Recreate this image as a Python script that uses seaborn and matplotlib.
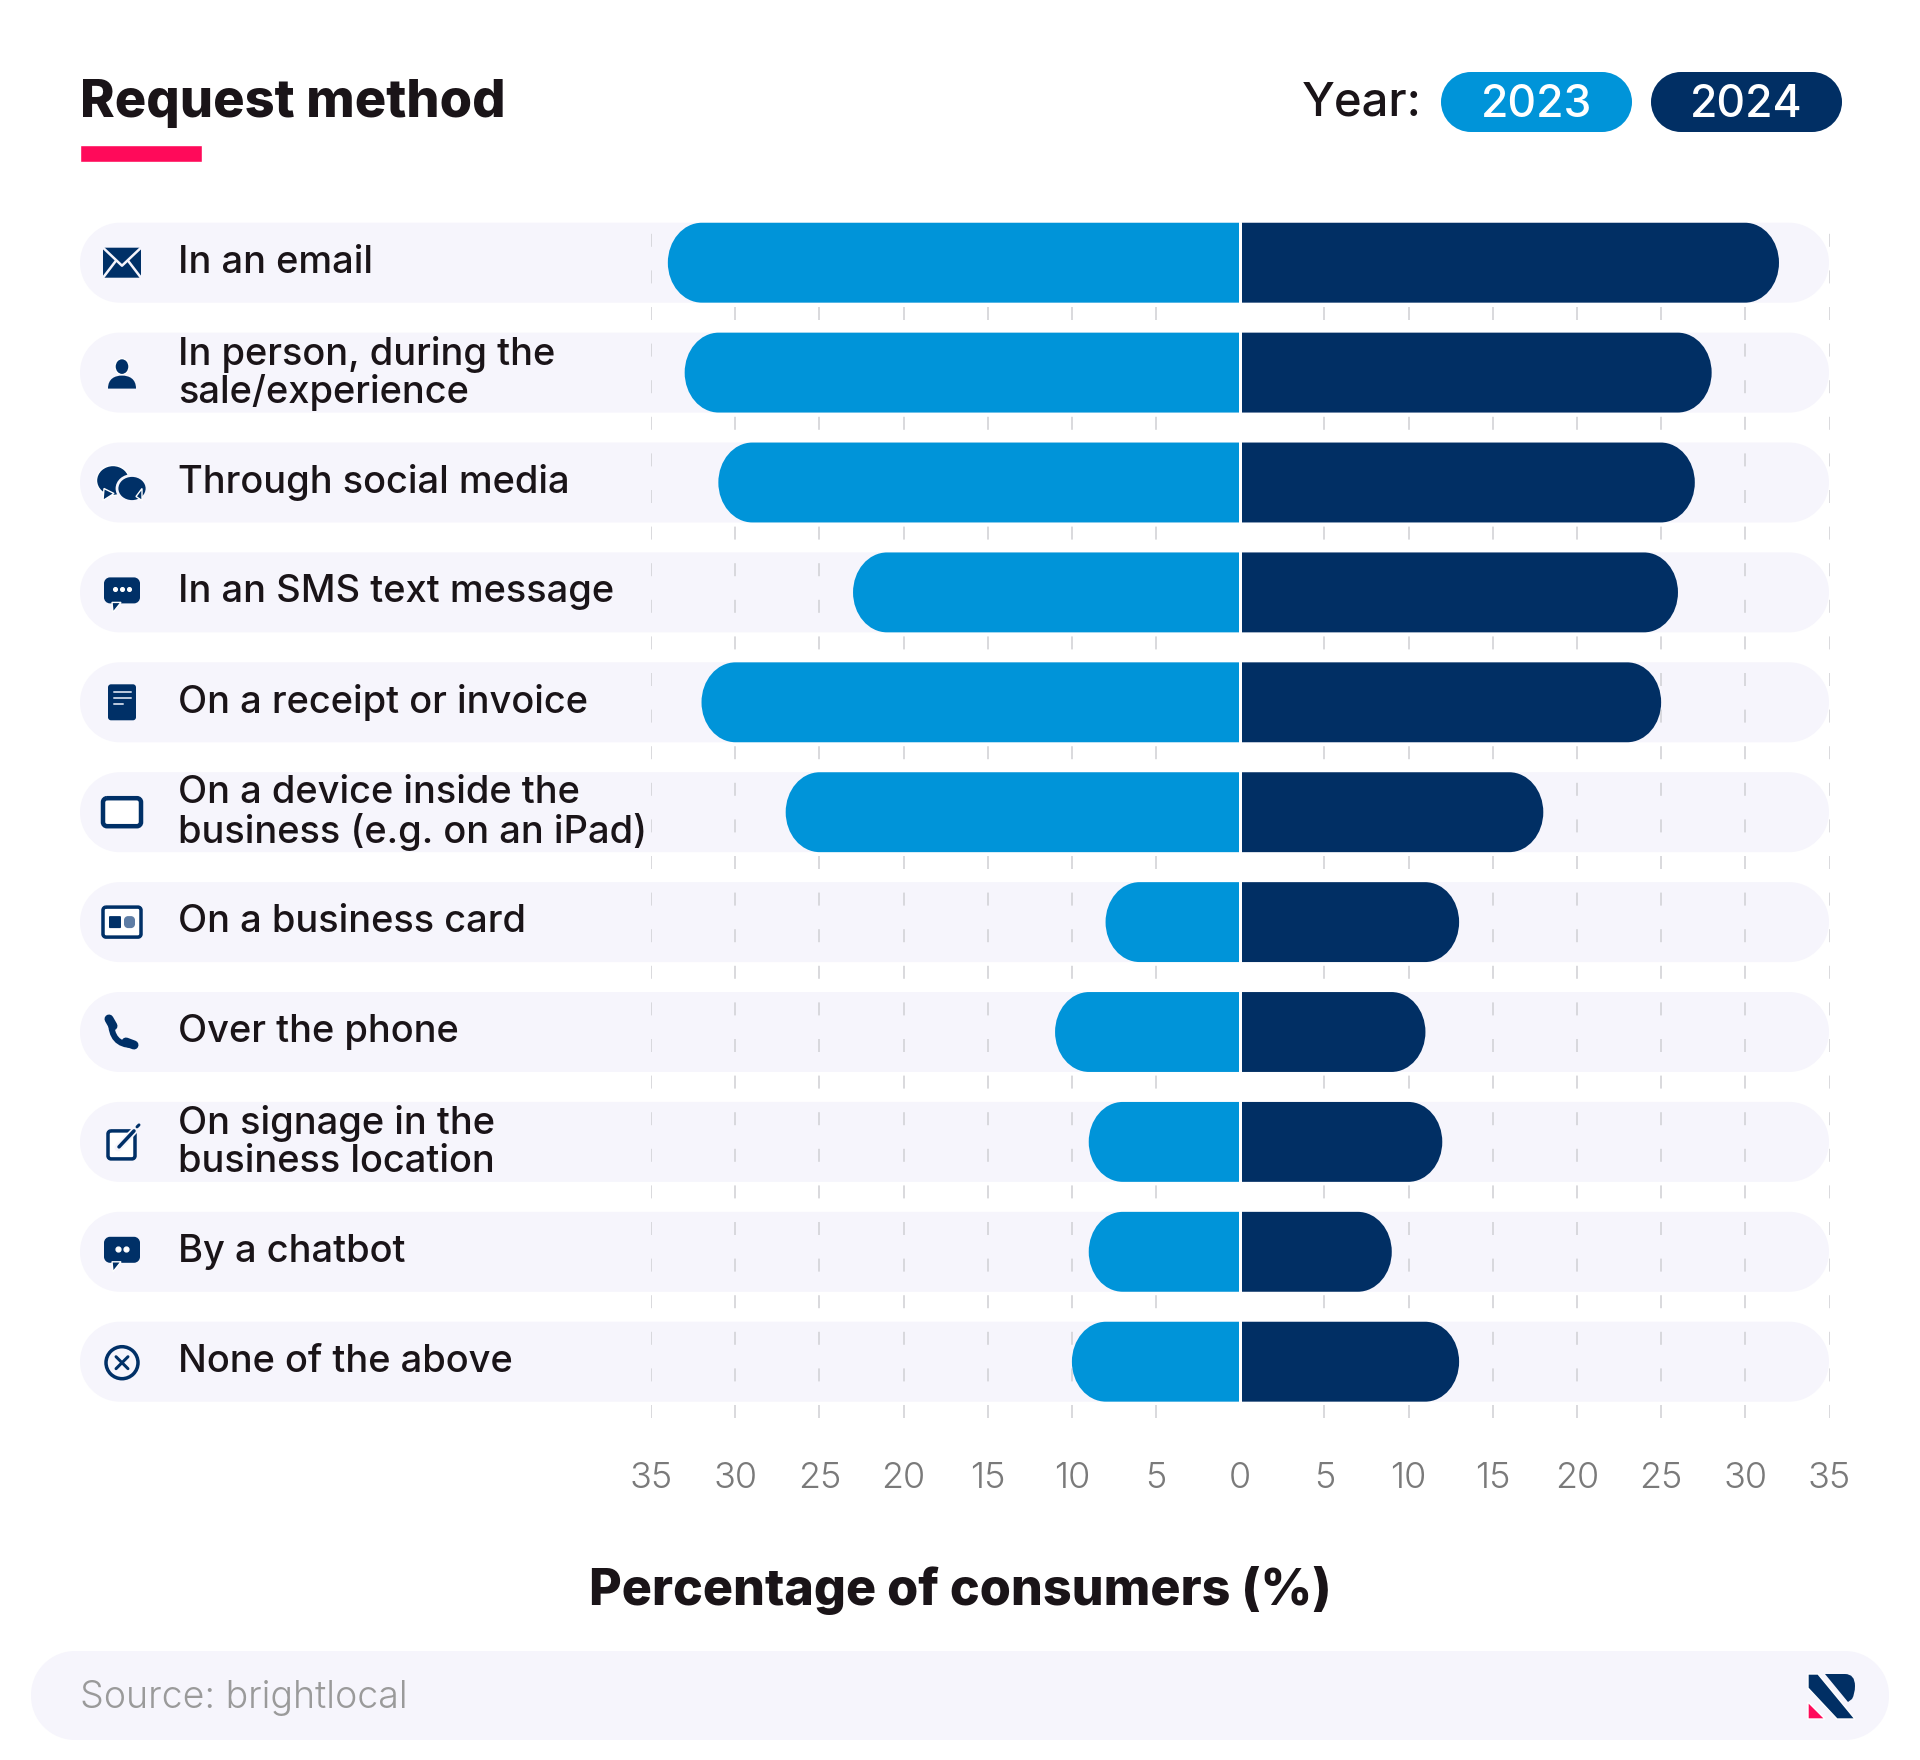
import matplotlib.pyplot as plt
import matplotlib.patches as mpatches
from matplotlib.path import Path
from matplotlib.ticker import FuncFormatter
from matplotlib.transforms import ScaledTranslation
import pandas as pd
import seaborn as sns

methods = ["In an email", "In person, during the\nsale/experience", "Through social media",
           "In an SMS text message", "On a receipt or invoice",
           "On a device inside the\nbusiness (e.g. on an iPad)", "On a business card",
           "Over the phone", "On signage in the\nbusiness location", "By a chatbot",
           "None of the above"]
values_2023 = [34, 33, 31, 23, 32, 27, 8, 11, 9, 9, 10]
values_2024 = [32, 28, 27, 26, 25, 18, 13, 11, 12, 9, 13]
years = ["2023", "2024"]
x_ticks = list(range(-35, 40, 5))

BLUE = "#0094D9"
NAVY = "#012F64"
PINK = "#FF0A5A"
ROW_BG = "#F6F5FC"
INK = "#1A1418"
ICON = "#003067"

sns.set_theme(style="white")
plt.rcParams["font.family"] = ["Inter", "DejaVu Sans"]
plt.rcParams["lines.scale_dashes"] = False
plt.rcParams["axes.axisbelow"] = True

PX = 0.72  # points per pixel at dpi 100
fig = plt.figure(figsize=(19.2, 17.6), dpi=100)

# backdrop axes in image pixels: pills, icons, header and footer
bg = fig.add_axes([0, 0, 1, 1], zorder=0)
bg.set_xlim(0, 1920)
bg.set_ylim(1760, 0)
bg.axis("off")

# chart axes sits on top, its range matches the 35..35 span of the picture
left, right, top, bottom = 651, 1829.5, 222, 1418
ax = fig.add_axes([left / 1920, 1 - bottom / 1760, (right - left) / 1920, (bottom - top) / 1760], zorder=1)
ax.patch.set_alpha(0)

df = pd.DataFrame({
    "method": methods * 2,
    "value": [-v for v in values_2023] + values_2024,
    "year": [years[0]] * len(methods) + [years[1]] * len(methods),
})
sns.barplot(data=df, x="value", y="method", hue="year", order=methods, palette=[BLUE, NAVY],
            dodge=False, width=0.727, saturation=1, legend=False, ax=ax)

ax.set_xlim(-35, 35)
ax.set_ylim((bottom - 262.7) / 109.9, (top - 262.7) / 109.9)


def pill_end_path(x0, x1, y0, y1, rx, ry):
    # bar with a flat edge at x0 and a rounded end at x1
    s = 1 if x1 > x0 else -1
    k = 0.5523
    verts = [(x0, y0), (x1 - s * rx, y0),
             (x1 - s * rx + s * k * rx, y0), (x1, y0 + ry - k * ry), (x1, y0 + ry),
             (x1, y1 - ry),
             (x1, y1 - ry + k * ry), (x1 - s * rx + s * k * rx, y1), (x1 - s * rx, y1),
             (x0, y1), (x0, y0)]
    codes = [Path.MOVETO, Path.LINETO, Path.CURVE4, Path.CURVE4, Path.CURVE4, Path.LINETO,
             Path.CURVE4, Path.CURVE4, Path.CURVE4, Path.LINETO, Path.CLOSEPOLY]
    return Path(verts, codes)


# swap seaborn's square ends for the rounded ones
unit_x = (right - left) / 70
unit_y = 109.9
for bar in list(ax.patches):
    if bar.get_width() == 0:
        continue
    y0, y1 = bar.get_y(), bar.get_y() + bar.get_height()
    path = pill_end_path(bar.get_x(), bar.get_x() + bar.get_width(), y0, y1, 34 / unit_x, 40 / unit_y)
    ax.add_patch(mpatches.PathPatch(path, facecolor=bar.get_facecolor(), edgecolor="none", zorder=2))
    bar.remove()

ax.axvline(0, color="white", lw=3 * PX, zorder=3)

ax.set_xticks(x_ticks)
ax.xaxis.set_major_formatter(FuncFormatter(lambda v, _: f"{abs(int(v))}"))
ax.tick_params(axis="x", length=0, pad=44 * PX, labelsize=26, labelcolor="#7A7A7A")
ax.tick_params(axis="y", length=0, pad=(left - 178) * PX, labelsize=27.4, labelcolor=INK)
nudge_up = ScaledTranslation(0, 4 / 100, fig.dpi_scale_trans)
for label in ax.get_yticklabels():
    label.set_ha("left")
    label.set_fontweight(500)
    label.set_linespacing(1.05)
    label.set_transform(label.get_transform() + nudge_up)
for label in ax.get_xticklabels():
    label.set_fontweight(300)

ax.grid(axis="x", color="#CFCFD3", lw=1.5 * PX, linestyle=(0, (13 * PX, 23.6 * PX)))
ax.get_xgridlines()[x_ticks.index(0)].set_visible(False)
ax.set_ylabel("")
ax.set_xlabel("Percentage of consumers (%)", fontsize=36.2, fontweight=800, color=INK, va="center")
ax.xaxis.set_label_coords((960 - left) / (right - left), (bottom - 1590) / (bottom - top))
sns.despine(ax=ax, left=True, bottom=True)


def pill_path(x0, y0, x1, y1, r):
    # rounded box with true circular corners
    k = 0.5523 * r
    verts = [(x0 + r, y0), (x1 - r, y0), (x1 - r + k, y0), (x1, y0 + r - k), (x1, y0 + r),
             (x1, y1 - r), (x1, y1 - r + k), (x1 - r + k, y1), (x1 - r, y1),
             (x0 + r, y1), (x0 + r - k, y1), (x0, y1 - r + k), (x0, y1 - r),
             (x0, y0 + r), (x0, y0 + r - k), (x0 + r - k, y0), (x0 + r, y0)]
    codes = [Path.MOVETO, Path.LINETO, Path.CURVE4, Path.CURVE4, Path.CURVE4,
             Path.LINETO, Path.CURVE4, Path.CURVE4, Path.CURVE4,
             Path.LINETO, Path.CURVE4, Path.CURVE4, Path.CURVE4,
             Path.LINETO, Path.CURVE4, Path.CURVE4, Path.CURVE4]
    return Path(verts, codes)


def pill(x0, y0, x1, y1, r, color):
    bg.add_patch(mpatches.PathPatch(pill_path(x0, y0, x1, y1, r), facecolor=color, edgecolor="none"))


def outline(x0, y0, x1, y1, r, lw=4):
    bg.add_patch(mpatches.PathPatch(pill_path(x0, y0, x1, y1, r), facecolor="white", edgecolor=ICON, lw=lw * PX))


def line(xs, ys, color=ICON, lw=2.5):
    bg.plot(xs, ys, color=color, lw=lw * PX, solid_capstyle="round")


def bubble(cx, cy, glyph):
    pill(cx - 18, cy - 15, cx + 18, cy + 11, 6, ICON)
    bg.add_patch(mpatches.Polygon([(cx - 10, cy + 10), (cx - 9, cy + 20), (cx - 1, cy + 10)], facecolor=ICON))
    if glyph == "dots":
        bg.scatter([cx - 7, cx, cx + 7], [cy - 3] * 3, s=7, color="white", zorder=3)
    else:
        bg.scatter([cx - 4, cx + 4], [cy - 3] * 2, s=12, color="white", zorder=3)


# row pills and small pictograms
row_y = [262.7 + 109.9 * i for i in range(len(methods))]
for y in row_y:
    pill(80, y - 40, 1829, y + 40, 40, ROW_BG)

cx = 122
y = row_y[0]
pill(cx - 19, y - 15, cx + 19, y + 15, 2, ICON)
line([cx - 19, cx, cx + 19], [y - 15, y + 3, y - 15], "#F6F5FC", 2.5)
line([cx - 19, cx - 6], [y + 15, y - 2], "#F6F5FC", 2.5)
line([cx + 19, cx + 6], [y + 15, y - 2], "#F6F5FC", 2.5)

y = row_y[1]
bg.add_patch(mpatches.Ellipse((cx, y - 6), 14, 16, facecolor=ICON))
body = Path([(cx - 14, y + 16), (cx - 14, y + 6), (cx - 7, y + 3), (cx, y + 3), (cx + 7, y + 3), (cx + 14, y + 6),
             (cx + 14, y + 16), (cx - 14, y + 16)],
            [Path.MOVETO, Path.CURVE4, Path.CURVE4, Path.CURVE4, Path.CURVE4, Path.CURVE4, Path.CURVE4, Path.CLOSEPOLY])
bg.add_patch(mpatches.PathPatch(body, facecolor=ICON, edgecolor="none"))

y = row_y[2]
bg.add_patch(mpatches.Ellipse((cx - 9, y - 2), 33, 30, facecolor=ICON))
bg.add_patch(mpatches.Polygon([(cx - 18, y + 6), (cx - 19, y + 18), (cx - 8, y + 11)], facecolor=ICON))
bg.add_patch(mpatches.Ellipse((cx + 10, y + 6), 30, 26, facecolor=ICON, edgecolor=ROW_BG, lw=2))
bg.add_patch(mpatches.Polygon([(cx + 14, y + 14), (cx + 20, y + 18), (cx + 20, y + 6)], facecolor=ICON))

y = row_y[3]
bubble(cx, y, "dots")

y = row_y[4]
pill(cx - 14, y - 18, cx + 14, y + 18, 3, ICON)
for w, dy in [(17, -10), (17, -4), (9, 2)]:
    line([cx - 8, cx - 8 + w], [y + dy, y + dy], "#B9C6DA", 2)

y = row_y[5]
outline(cx - 19, y - 14, cx + 19, y + 14, 4, 4.5)

y = row_y[6]
outline(cx - 19, y - 15, cx + 19, y + 15, 3, 3.5)
pill(cx - 13, y - 6, cx - 1, y + 6, 1, ICON)
pill(cx + 2, y - 6, cx + 13, y + 6, 4, "#5E7DA5")

y = row_y[7]
phone = Path([(cx - 11, y - 11), (cx - 11, y + 13), (cx + 10, y + 13)], [Path.MOVETO, Path.CURVE3, Path.CURVE3])
bg.add_patch(mpatches.PathPatch(phone, facecolor="none", edgecolor=ICON, lw=6 * PX, capstyle="round"))
line([cx - 13, cx - 9], [y - 13, y - 6], ICON, 9)
line([cx + 4, cx + 12], [y + 10, y + 13], ICON, 9)

y = row_y[8]
outline(cx - 14, y - 11, cx + 13, y + 17, 3, 3.5)
line([cx - 4, cx + 13], [y + 6, y - 12], ROW_BG, 7)
line([cx - 3, cx + 12], [y + 5, y - 11], ICON, 3.5)
line([cx + 15, cx + 17], [y - 15, y - 17], ICON, 3)

y = row_y[9]
bubble(cx, y, "quote")

y = row_y[10]
bg.add_patch(mpatches.Circle((cx, y + 1), 16, facecolor="none", edgecolor=ICON, lw=3.5 * PX))
line([cx - 6, cx + 6], [y - 5, y + 7], ICON, 3)
line([cx - 6, cx + 6], [y + 7, y - 5], ICON, 3)

# header
bg.text(80, 103, "Request method", fontsize=37.7, fontweight=800, color=INK, va="center")
bg.add_patch(mpatches.Rectangle((80, 145), 122, 17, facecolor=PINK))
bg.text(1422, 104, "Year:", fontsize=34, fontweight=500, color=INK, va="center", ha="right")
for (x0, x1), color, year in zip([(1441, 1632), (1651, 1842)], [BLUE, NAVY], years):
    pill(x0, 72, x1, 132, 30, color)
    bg.text((x0 + x1) / 2, 105, year, fontsize=32, fontweight=500, color="white", va="center", ha="center")

# footer with source and brand mark
pill(31, 1651, 1889, 1740, 44, ROW_BG)
bg.text(80, 1698, "Source: brightlocal", fontsize=27, fontweight=300, color="#9A9A9A", va="center")
bg.add_patch(mpatches.Polygon([(1808, 1674), (1808, 1688), (1837, 1719), (1855, 1719), (1818, 1674)], facecolor=NAVY))
bowl = Path([(1825, 1674), (1845, 1674), (1855, 1674), (1855, 1686), (1855, 1694), (1852, 1699), (1848, 1702), (1825, 1674)],
            [Path.MOVETO, Path.LINETO, Path.CURVE3, Path.CURVE3, Path.CURVE3, Path.CURVE3, Path.LINETO, Path.CLOSEPOLY])
bg.add_patch(mpatches.PathPatch(bowl, facecolor=NAVY, edgecolor="none"))
bg.add_patch(mpatches.Polygon([(1808, 1702), (1825, 1719), (1808, 1719)], facecolor=PINK))

fig.savefig("out.png", dpi=100)
